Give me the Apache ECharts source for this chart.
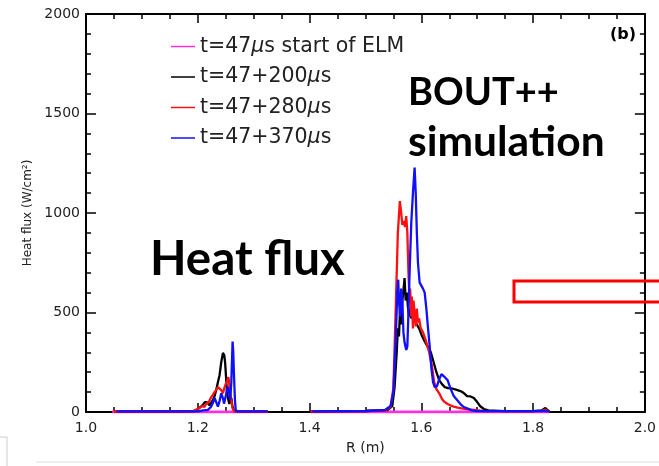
<!DOCTYPE html>
<html>
<head>
<meta charset="utf-8">
<script src="https://cdn.jsdelivr.net/npm/echarts@6/dist/echarts.min.js"></script>
<style>html,body{margin:0;padding:0;background:#fff;}#c{width:659px;height:466px;}</style>
</head>
<body>
<div id="c"></div>
<script>
// ---- data (R in m, heat flux in W/cm^2) ----
const seriesNames = ['t=47μs start of ELM', 't=47+200μs', 't=47+280μs', 't=47+370μs'];
const xTicks = [1.0, 1.2, 1.4, 1.6, 1.8, 2.0];
const yTicks = [0, 500, 1000, 1500, 2000];

const rPink = [1.047, 1.325, 1.36, 1.402, 1.829];
const qPink = [0, 0, null, 0, 0];

const rBlack = [1.05,1.17,1.195,1.205,1.2095,1.213,1.217,1.221,1.224,1.227,1.230,1.233,1.236,1.239,1.242,1.245,1.2475,1.249,1.2505,1.252,1.254,1.2565,1.258,1.260,1.262,1.265,1.27,1.325,1.36,
  1.402,1.50,1.54,1.548,1.552,1.556,1.558,1.560,1.562,1.564,1.566,1.568,1.570,1.572,1.574,1.576,1.578,1.580,1.582,1.585,1.588,1.592,1.596,1.600,1.605,1.610,1.617,1.622,1.627,1.632,1.637,1.642,1.648,1.655,1.662,1.670,1.676,1.682,1.688,1.694,1.700,1.705,1.712,1.72,1.75,1.80,1.815,1.822,1.826,1.829];
const qBlack = [3,3,5,25,38,50,48,33,42,60,80,111,150,185,250,297,285,245,180,110,70,40,55,70,30,5,3,3,null,
  3,5,10,30,120,300,420,380,520,440,560,610,673,560,600,530,480,520,470,500,460,440,420,390,360,335,300,250,200,160,140,125,120,118,112,105,95,80,78,70,50,30,15,8,4,4,8,20,10,3];

const rRed = [1.05,1.19,1.20,1.207,1.212,1.215,1.22,1.224,1.227,1.230,1.233,1.236,1.239,1.242,1.245,1.248,1.2505,1.253,1.2547,1.256,1.258,1.260,1.262,1.265,1.325,1.36,
  1.402,1.50,1.535,1.545,1.550,1.553,1.556,1.558,1.5616,1.564,1.566,1.568,1.569,1.571,1.573,1.575,1.577,1.579,1.580,1.582,1.583,1.585,1.586,1.588,1.590,1.592,1.594,1.596,1.599,1.603,1.608,1.614,1.619,1.623,1.627,1.632,1.637,1.641,1.647,1.653,1.658,1.665,1.672,1.680,1.694,1.71,1.75,1.80,1.815,1.822,1.826,1.829];
const qRed = [3,3,15,30,25,42,50,75,86,100,111,125,130,110,94,125,144,160,175,150,94,60,20,5,3,null,
  3,5,8,25,120,400,700,900,1060,1000,940,960,952,930,984,900,700,560,620,480,580,420,560,500,430,520,450,470,420,400,360,300,230,150,115,94,65,52,40,32,27,22,18,14,10,5,4,4,6,12,5,3];

const rBlue = [1.055,1.20,1.21,1.218,1.224,1.227,1.230,1.233,1.236,1.239,1.242,1.245,1.247,1.250,1.2535,1.256,1.258,1.260,1.2623,1.2635,1.265,1.2665,1.268,1.272,1.325,1.36,
  1.405,1.50,1.535,1.545,1.550,1.554,1.557,1.5587,1.560,1.562,1.564,1.566,1.568,1.570,1.573,1.575,1.577,1.579,1.582,1.585,1.588,1.590,1.592,1.594,1.597,1.600,1.603,1.606,1.609,1.612,1.615,1.618,1.621,1.624,1.628,1.632,1.636,1.638,1.642,1.647,1.652,1.658,1.664,1.670,1.676,1.682,1.69,1.70,1.80,1.82,1.829];
const qBlue = [3,3,8,10,27,45,70,50,27,55,94,70,42,80,128,100,60,150,354,300,170,60,8,3,3,null,
  3,5,10,30,100,350,600,665,560,480,620,560,400,350,312,330,500,700,950,1100,1228,1100,900,750,650,640,620,600,520,420,330,220,150,125,130,165,190,195,175,160,120,80,60,40,25,18,8,4,4,5,3];

const colors = ['#ff30e0', '#000000', '#ff1010', '#1010ff'];
const rs = [rPink, rBlack, rRed, rBlue];
const qs = [qPink, qBlack, qRed, qBlue];

function pairs(r, q) { return r.map((x, i) => [x, q[i]]); }

const chart = echarts.init(document.getElementById('c'), null, {renderer: 'canvas'});
const font = 'DejaVu Sans';
const tickMajor = (len) => ({show: true, inside: true, length: len, lineStyle: {color: '#000', width: 1.5}});
const tickMinor = (n) => ({show: true, splitNumber: n, length: 5, lineStyle: {color: '#000', width: 1.5}});
const axLine = {show: true, onZero: false, lineStyle: {color: '#000', width: 2}};
chart.setOption({
  animation: false,
  backgroundColor: '#fff',
  grid: {left: 86, right: 5, top: 14, bottom: 54, containLabel: false},
  legend: {
    orient: 'vertical', left: 166, top: 31, itemGap: 9.5,
    itemWidth: 24, itemHeight: 1.5, icon: 'rect',
    data: seriesNames,
    formatter: n => n.replace('μ', '{i|μ}'),
    textStyle: {fontFamily: font, fontSize: 20.5, color: '#222', lineHeight: 20,
      rich: {i: {fontFamily: font, fontSize: 20.5, fontStyle: 'italic', color: '#222', lineHeight: 20}}}
  },
  xAxis: [{
    type: 'value', min: 1.0, max: 2.0, interval: 0.2, position: 'bottom',
    name: 'R (m)', nameLocation: 'middle', nameGap: 29,
    nameTextStyle: {fontFamily: font, fontSize: 14, color: '#222'},
    axisLabel: {fontFamily: font, fontSize: 14, color: '#222', margin: 9, formatter: v => v.toFixed(1)},
    axisLine: axLine, axisTick: tickMajor(9), minorTick: tickMinor(4), splitLine: {show: false}
  }, {
    type: 'value', min: 1.0, max: 2.0, interval: 0.2, position: 'top',
    axisLabel: {show: false},
    axisLine: axLine, axisTick: tickMajor(9), minorTick: tickMinor(4), splitLine: {show: false}
  }],
  yAxis: [{
    type: 'value', min: 0, max: 2000, interval: 500, position: 'left',
    name: 'Heat flux (W/cm²)', nameLocation: 'middle', nameGap: 42,
    nameTextStyle: {fontFamily: font, fontSize: 12, color: '#222'},
    axisLabel: {fontFamily: font, fontSize: 14, color: '#222', margin: 6, formatter: v => String(v)},
    axisLine: axLine, axisTick: tickMajor(10), minorTick: tickMinor(5), splitLine: {show: false}
  }, {
    type: 'value', min: 0, max: 2000, interval: 500, position: 'right',
    axisLabel: {show: false},
    axisLine: axLine, axisTick: tickMajor(10), minorTick: tickMinor(5), splitLine: {show: false}
  }],
  series: seriesNames.map((n, i) => ({
    name: n, type: 'line', xAxisIndex: 0, yAxisIndex: 0,
    data: pairs(rs[i], qs[i]), showSymbol: false, symbol: 'none',
    connectNulls: false, smooth: false, z: 2 + i,
    lineStyle: {color: colors[i], width: i === 0 ? 2.8 : 2.3},
    itemStyle: {color: colors[i]}
  })),
  graphic: [
    {type: 'text', left: 150, top: 236, style: {text: 'Heat flux', fontFamily: 'Lato', fontWeight: 'bold', fontSize: 47.5, fill: '#000'}},
    {type: 'text', left: 408, top: 74, style: {text: 'BOUT++', fontFamily: 'Lato', fontWeight: 'bold', fontSize: 38, fill: '#000'}},
    {type: 'text', left: 408, top: 121, style: {text: 'simulation', fontFamily: 'Lato', fontWeight: 'bold', fontSize: 42.5, fill: '#000'}},
    {type: 'text', left: 610, top: 27, style: {text: '(b)', fontFamily: font, fontWeight: 'bold', fontSize: 16, fill: '#000'}},
    {type: 'rect', shape: {x: 514, y: 281, width: 160, height: 21}, style: {fill: 'none', stroke: '#ff0000', lineWidth: 3}, z: 100},
    {type: 'line', shape: {x1: 0, y1: 437, x2: 7, y2: 437}, style: {stroke: '#cccccc', lineWidth: 1}},
    {type: 'line', shape: {x1: 7, y1: 437, x2: 7, y2: 466}, style: {stroke: '#cccccc', lineWidth: 1}},
    {type: 'line', shape: {x1: 36, y1: 462, x2: 659, y2: 462}, style: {stroke: '#dddddd', lineWidth: 1}}
  ]
});
</script>
</body>
</html>
